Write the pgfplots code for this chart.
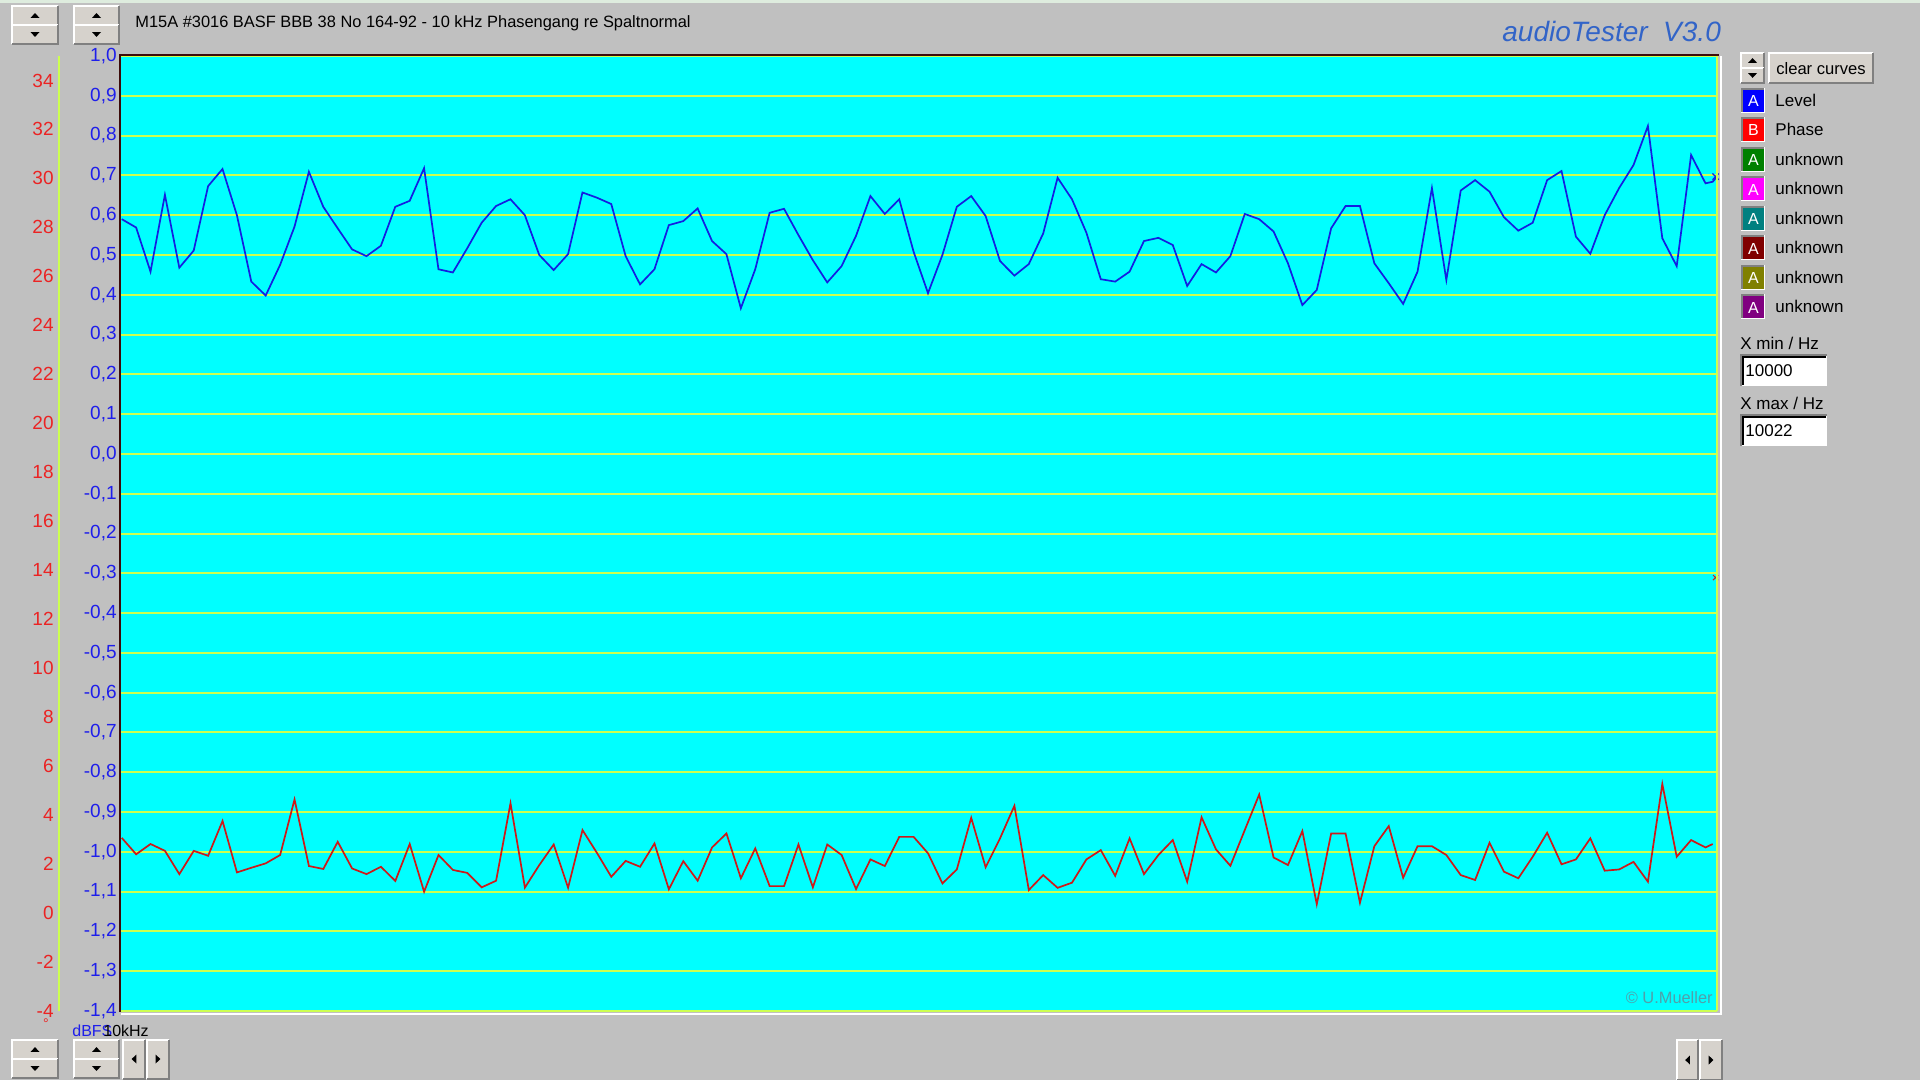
\documentclass[border=0pt]{standalone}
\usepackage{fontspec}
\setmainfont{Liberation Sans}
\usepackage{pgfplots}
\pgfplotsset{compat=1.18}
\definecolor{wingray}{RGB}{192,192,192}
\definecolor{topstrip}{RGB}{222,236,222}
\definecolor{btnface}{RGB}{214,210,204}
\definecolor{btndark}{RGB}{128,128,128}
\definecolor{plotcyan}{RGB}{0,255,255}
\definecolor{gridyel}{RGB}{205,255,80}
\definecolor{lvlblue}{RGB}{20,30,225}
\definecolor{phred}{RGB}{205,25,25}
\definecolor{lblblue}{RGB}{30,30,235}
\definecolor{lblred}{RGB}{235,35,35}
\definecolor{attblue}{RGB}{50,100,200}
\definecolor{copyc}{RGB}{80,160,170}
\definecolor{uGreen}{RGB}{0,128,0}
\definecolor{uMag}{RGB}{255,0,255}
\definecolor{uTeal}{RGB}{0,128,128}
\definecolor{uMaroon}{RGB}{128,0,0}
\definecolor{uOlive}{RGB}{128,128,0}
\definecolor{uPurple}{RGB}{128,0,128}
\definecolor{frameDark}{RGB}{60,10,10}

\newcommand{\btn}[4]{%
 \fill[btnface] (#1,#2) rectangle (#3,#4);
 \draw[white,line width=0.6pt] (#1,#4) -- (#1,#2) -- (#3,#2);
 \draw[btndark,line width=0.6pt] (#1,#4) -- (#3,#4) -- (#3,#2);}
\newcommand{\tup}[2]{\fill[black] ({#1-4.5},{#2+2.3}) -- ({#1+4.5},{#2+2.3}) -- (#1,{#2-2.3}) -- cycle;}
\newcommand{\tdn}[2]{\fill[black] ({#1-4.5},{#2-2.3}) -- ({#1+4.5},{#2-2.3}) -- (#1,{#2+2.3}) -- cycle;}
\newcommand{\tlf}[2]{\fill[black] ({#1+2.3},{#2-4.5}) -- ({#1+2.3},{#2+4.5}) -- ({#1-2.3},#2) -- cycle;}
\newcommand{\trt}[2]{\fill[black] ({#1-2.3},{#2-4.5}) -- ({#1-2.3},{#2+4.5}) -- ({#1+2.3},#2) -- cycle;}
\newcommand{\spin}[4]{%
 \pgfmathsetmacro\spmid{(#2+#4)/2}%
 \pgfmathsetmacro\spcx{(#1+#3)/2}%
 \pgfmathsetmacro\spa{(#2+\spmid)/2}%
 \pgfmathsetmacro\spb{(\spmid+#4)/2}%
 \btn{#1}{#2}{#3}{\spmid}
 \btn{#1}{\spmid}{#3}{#4}
 \tup{\spcx}{\spa}
 \tdn{\spcx}{\spb}}
\newcommand{\lsq}[3]{%
 \fill[white] (1741,{#1-12}) rectangle (1765,{#1+13});
 \fill[btndark] (1741,{#1-12}) rectangle (1764,{#1+12});
 \fill[#2] (1743,{#1-10}) rectangle (1764,{#1+12});
 \node[white, font=\fontsize{8pt}{9pt}\selectfont, inner sep=0pt] at (1753.5,{#1+1}) {#3};}
\newcommand{\fs}[1]{\fontsize{#1}{#1}\selectfont}

\begin{document}
\begin{tikzpicture}
\useasboundingbox (0,0) rectangle (960pt,-540pt);
\fill[wingray] (0,0) rectangle (960pt,-540pt);
\fill[topstrip] (0,0) rectangle (960pt,-1.6pt);

% Level (blue) axis
\begin{axis}[
  at={(60.5pt,-28pt)}, anchor=north west,
  scale only axis, width=798pt, height=477.5pt,
  xmin=-0.05, xmax=110.8, ymin=-1.4, ymax=1.0,
  axis background/.style={fill=plotcyan},
  axis line style={draw=none},
  major tick length=0pt,
  xtick=\empty,
  ytick={-1.4,-1.3,-1.2,-1.1,-1.0,-0.9,-0.8,-0.7,-0.6,-0.5,-0.4,-0.3,-0.2,-0.1,0,0.1,0.2,0.3,0.4,0.5,0.6,0.7,0.8,0.9,1.0},
  yticklabels={{-1,4},{-1,3},{-1,2},{-1,1},{-1,0},{-0,9},{-0,8},{-0,7},{-0,6},{-0,5},{-0,4},{-0,3},{-0,2},{-0,1},{0,0},{0,1},{0,2},{0,3},{0,4},{0,5},{0,6},{0,7},{0,8},{0,9},{1,0}},
  yticklabel style={text=lblblue, font=\fs{9.5pt}, anchor=east, inner sep=0pt, xshift=-2pt},
  ymajorgrids, grid style={gridyel, line width=1pt},
]
\addplot[lvlblue, line width=0.85pt, mark=none] coordinates {
(0,0.590)(1,0.569)(2,0.458)(3,0.651)(4,0.468)(5,0.511)(6,0.673)(7,0.716)(8,0.600)(9,0.433)(10,0.398)(11,0.475)(12,0.571)(13,0.709)(14,0.621)(15,0.567)(16,0.514)(17,0.497)(18,0.523)(19,0.621)(20,0.636)(21,0.718)(22,0.464)(23,0.456)(24,0.517)(25,0.581)(26,0.623)(27,0.640)(28,0.600)(29,0.500)(30,0.462)(31,0.502)(32,0.657)(33,0.644)(34,0.628)(35,0.497)(36,0.426)(37,0.464)(38,0.575)(39,0.585)(40,0.617)(41,0.535)(42,0.502)(43,0.366)(44,0.464)(45,0.606)(46,0.616)(47,0.550)(48,0.487)(49,0.431)(50,0.472)(51,0.548)(52,0.648)(53,0.603)(54,0.640)(55,0.508)(56,0.404)(57,0.500)(58,0.621)(59,0.648)(60,0.598)(61,0.485)(62,0.448)(63,0.477)(64,0.554)(65,0.694)(66,0.640)(67,0.556)(68,0.439)(69,0.433)(70,0.458)(71,0.535)(72,0.543)(73,0.525)(74,0.422)(75,0.477)(76,0.456)(77,0.497)(78,0.603)(79,0.590)(80,0.559)(81,0.479)(82,0.374)(83,0.412)(84,0.567)(85,0.623)(86,0.623)(87,0.479)(88,0.429)(89,0.377)(90,0.458)(91,0.668)(92,0.437)(93,0.662)(94,0.688)(95,0.659)(96,0.595)(97,0.561)(98,0.581)(99,0.688)(100,0.711)(101,0.546)(102,0.503)(103,0.600)(104,0.668)(105,0.726)(106,0.824)(107,0.542)(108,0.472)(109,0.751)(110,0.680)(110.5,0.684)(110.8,0.697)
};
\addplot[lvlblue, line width=0.6pt, only marks, mark=x, mark size=2.2pt] coordinates {(110.7,0.697)};
\end{axis}

% Phase (red) axis
\begin{axis}[
  at={(30pt,-28pt)}, anchor=north west,
  scale only axis, width=828.5pt, height=477.5pt,
  xmin=-4.29, xmax=110.8, ymin=-4, ymax=35,
  axis line style={draw=none},
  major tick length=0pt,
  xtick=\empty,
  ytick={-4,-2,0,2,4,6,8,10,12,14,16,18,20,22,24,26,28,30,32,34},
  yticklabels={-4,-2,0,2,4,6,8,10,12,14,16,18,20,22,24,26,28,30,32,34},
  yticklabel style={text=lblred, font=\fs{9.5pt}, anchor=east, inner sep=0pt, xshift=-3pt},
]
\addplot[phred, line width=0.85pt, mark=none] coordinates {
(0,3.07)(1,2.40)(2,2.82)(3,2.54)(4,1.59)(5,2.54)(6,2.34)(7,3.76)(8,1.66)(9,1.85)(10,2.03)(11,2.37)(12,4.64)(13,1.92)(14,1.80)(15,2.91)(16,1.82)(17,1.59)(18,1.89)(19,1.31)(20,2.82)(21,0.87)(22,2.37)(23,1.76)(24,1.64)(25,1.05)(26,1.32)(27,4.48)(28,1.04)(29,1.96)(30,2.80)(31,1.03)(32,3.39)(33,2.46)(34,1.48)(35,2.13)(36,1.89)(37,2.84)(38,0.97)(39,2.12)(40,1.32)(41,2.68)(42,3.25)(43,1.42)(44,2.64)(45,1.10)(46,1.10)(47,2.80)(48,1.05)(49,2.80)(50,2.37)(51,0.98)(52,2.19)(53,1.92)(54,3.11)(55,3.11)(56,2.44)(57,1.21)(58,1.78)(59,3.89)(60,1.87)(61,3.05)(62,4.38)(63,0.94)(64,1.55)(65,1.03)(66,1.24)(67,2.19)(68,2.57)(69,1.52)(70,3.05)(71,1.59)(72,2.37)(73,2.98)(74,1.28)(75,3.91)(76,2.60)(77,1.93)(78,3.39)(79,4.84)(80,2.27)(81,1.96)(82,3.35)(83,0.36)(84,3.25)(85,3.25)(86,0.42)(87,2.73)(88,3.55)(89,1.44)(90,2.73)(91,2.73)(92,2.37)(93,1.55)(94,1.35)(95,2.87)(96,1.69)(97,1.42)(98,2.30)(99,3.28)(100,1.99)(101,2.19)(102,3.05)(103,1.73)(104,1.78)(105,2.09)(106,1.28)(107,5.27)(108,2.30)(109,2.98)(110,2.68)(110.5,2.82)
};
\addplot[phred, line width=0.5pt, only marks, mark=x, mark size=1.8pt] coordinates {(110.7,13.7)};
\end{axis}

\begin{scope}[x=0.5pt,y=-0.5pt]
% plot frame
\draw[frameDark, line width=1pt] (120,1012) -- (120,55) -- (1719,55);
\draw[gridyel, line width=1pt] (1717,56) -- (1717,1011);
\draw[white, line width=1pt] (121,1014) -- (1721,1014) -- (1721,56);
% phase axis line
\draw[gridyel, line width=1pt] (59,56) -- (59,1011);

% top-left spin buttons
\spin{12}{6}{58}{44}
\spin{74}{6}{119}{44}
% bottom buttons
\spin{12}{1040}{58}{1078}
\spin{74}{1040}{119}{1078}
\btn{123}{1040}{145}{1079}\tlf{134}{1059}
\btn{147}{1040}{169}{1079}\trt{158}{1059}
\btn{1677}{1040}{1698}{1080}\tlf{1687.5}{1060}
\btn{1700}{1040}{1722}{1080}\trt{1711}{1060}

% title
\node[anchor=west, inner sep=0pt, font=\fs{8.2pt}] at (135,23) {M15A \#3016 BASF BBB 38 No 164-92 - 10 kHz Phasengang re Spaltnormal};
\node[anchor=west, inner sep=0pt, text=attblue, font=\fs{14pt}\itshape] at (1502,32) {audioTester\ \ V3.0};

% right panel
\spin{1741}{53}{1764}{83}
\btn{1769}{53}{1873}{83}
\node[anchor=center, inner sep=0pt, font=\fs{8.3pt}] at (1821,69) {clear curves};
\lsq{100}{blue}{A}
\lsq{129}{red}{B}
\lsq{159}{uGreen}{A}
\lsq{188.5}{uMag}{A}
\lsq{218}{uTeal}{A}
\lsq{247.5}{uMaroon}{A}
\lsq{277}{uOlive}{A}
\lsq{306.5}{uPurple}{A}
\begin{scope}[every node/.style={anchor=west, inner sep=0pt, font=\fs{8.5pt}}]
\node at (1775,100) {Level};
\node at (1775,129) {Phase};
\node at (1775,159) {unknown};
\node at (1775,188.5) {unknown};
\node at (1775,218) {unknown};
\node at (1775,247.5) {unknown};
\node at (1775,277) {unknown};
\node at (1775,306.5) {unknown};
\node at (1740,343) {X min / Hz};
\node at (1740,403) {X max / Hz};
\end{scope}
% text boxes
\fill[white] (1741,355) rectangle (1827,386);
\draw[btndark, line width=0.6pt] (1741,386) -- (1741,355) -- (1827,355);
\draw[black, line width=0.6pt] (1743,385) -- (1743,357) -- (1826,357);
\fill[white] (1741,415) rectangle (1827,446);
\draw[btndark, line width=0.6pt] (1741,446) -- (1741,415) -- (1827,415);
\draw[black, line width=0.6pt] (1743,445) -- (1743,417) -- (1826,417);
\node[anchor=west, inner sep=0pt, font=\fs{8.5pt}] at (1745,370.5) {10000};
\node[anchor=west, inner sep=0pt, font=\fs{8.5pt}] at (1745,430.5) {10022};

% copyright
\node[anchor=east, inner sep=0pt, text=copyc, font=\fs{8.2pt}] at (1713,998) {© U.Mueller};

% bottom labels
\node[anchor=west, inner sep=0pt, text=lblblue, font=\fs{8pt}] at (72,1031) {dBFS};
\node[anchor=west, inner sep=0pt, text=black, font=\fs{8pt}] at (103,1031) {10kHz};
\node[anchor=center, inner sep=0pt, text=lblred, font=\fs{7pt}] at (46,1024) {°};
\end{scope}
\end{tikzpicture}
\end{document}
